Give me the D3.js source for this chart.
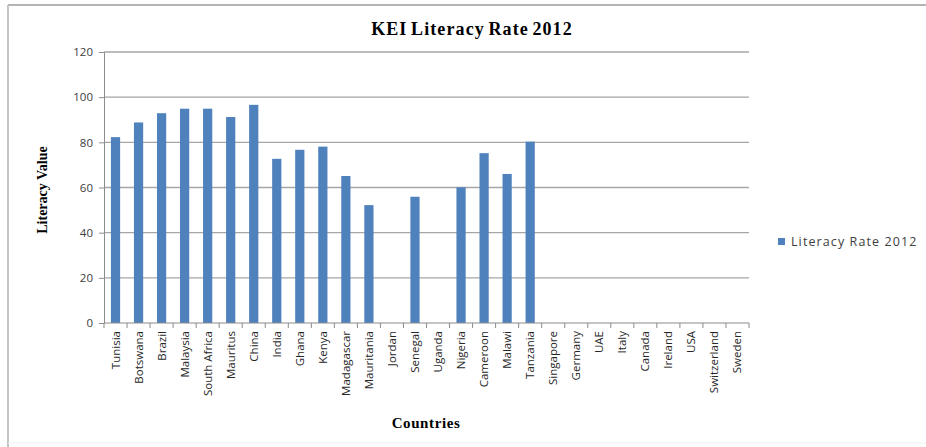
<!DOCTYPE html>
<html><head><meta charset="utf-8">
<script src="https://cdn.jsdelivr.net/npm/d3@7"></script>
<style>body{margin:0;background:#fff;}svg{display:block;}</style>
</head><body>
<svg id="c" width="926" height="447"></svg>
<script>
const countries = ["Tunisia","Botswana","Brazil","Malaysia","South Africa","Mauritus","China","India","Ghana","Kenya","Madagascar","Mauritania","Jordan","Senegal","Uganda","Nigeria","Cameroon","Malawi","Tanzania","Singapore","Germany","UAE","Italy","Canada","Ireland","USA","Switzerland","Sweden"];
const literacy2012 = [82.3,88.8,92.9,94.9,94.9,91.2,96.6,72.7,76.7,78.1,65.1,52.2,null,55.9,null,60.1,75.2,66.0,80.3,null,null,null,null,null,null,null,null,null];
const yTicks = [0,20,40,60,80,100,120];
const seriesName = "Literacy Rate 2012";
const title = "KEI Literacy Rate 2012";

(function(){
const svg = d3.select("#c");
const pL = 104, pR = 749, pT = 52, pB = 323;

// frame
svg.append("line").attr("x1",8).attr("x2",926).attr("y1",5).attr("y2",5).attr("stroke","#b4b4b4").attr("stroke-width",2);
svg.append("line").attr("x1",8).attr("x2",8).attr("y1",5).attr("y2",447).attr("stroke","#c4c4c4").attr("stroke-width",2);
svg.append("line").attr("x1",8).attr("x2",926).attr("y1",443).attr("y2",443).attr("stroke","#f0f0f0").attr("stroke-width",1);

const x = d3.scaleBand().domain(countries).range([pL,pR]).paddingInner(0.6).paddingOuter(0.3);
const y = d3.scaleLinear().domain([0,120]).range([pB,pT]);

// gridlines
svg.append("g").selectAll("line").data(yTicks.filter(d=>d>0)).join("line")
  .attr("x1",pL).attr("x2",pR).attr("y1",d=>y(d)).attr("y2",d=>y(d))
  .attr("stroke","#a6a6a6").attr("stroke-width",1.3);

// bars
svg.append("g").selectAll("rect").data(countries.map((c,i)=>({c,v:literacy2012[i]})).filter(d=>d.v!=null)).join("rect")
  .attr("x",d=>x(d.c)).attr("width",x.bandwidth())
  .attr("y",d=>y(d.v)).attr("height",d=>y(0)-y(d.v)).attr("fill","#4f81bd");

// y axis
const ya = svg.append("g").attr("transform",`translate(${pL},0)`)
  .call(d3.axisLeft(y).tickValues(yTicks).tickSize(5).tickPadding(6));
ya.select(".domain").attr("stroke","#8c8c8c");
ya.selectAll(".tick line").attr("stroke","#8c8c8c");
ya.selectAll("text").attr("font-family","'Open Sans', sans-serif").attr("font-size",11.5).attr("fill","#404040");

// x axis
const xb = d3.scaleLinear().domain([0,countries.length]).range([pL,pR]);
const xa = svg.append("g").attr("transform",`translate(0,${pB})`);
xa.append("line").attr("x1",pL).attr("x2",pR).attr("stroke","#8c8c8c").attr("stroke-width",1.2);
xa.selectAll("line.t").data(d3.range(countries.length+1)).join("line").attr("class","t")
  .attr("x1",d=>xb(d)).attr("x2",d=>xb(d)).attr("y1",0).attr("y2",5).attr("stroke","#8c8c8c");
xa.selectAll("text").data(countries).join("text")
  .attr("transform",d=>`translate(${x(d)+x.bandwidth()/2+4},8) rotate(-90)`)
  .attr("text-anchor","end").attr("font-family","'Open Sans', sans-serif").attr("font-size",11.5).attr("fill","#262626")
  .text(d=>d);

// titles
svg.append("text").attr("x",472).attr("y",35).attr("text-anchor","middle")
  .attr("font-family","'Liberation Serif', serif").attr("font-weight","bold").attr("font-size",18).attr("letter-spacing",1.1).attr("word-spacing",-2).text(title);
svg.append("text").attr("transform","translate(47,190) rotate(-90)").attr("text-anchor","middle")
  .attr("font-family","'Liberation Serif', serif").attr("font-weight","bold").attr("font-size",14).text("Literacy Value");
svg.append("text").attr("x",426).attr("y",428).attr("text-anchor","middle")
  .attr("font-family","'Liberation Serif', serif").attr("font-weight","bold").attr("font-size",15).attr("letter-spacing",0.6).text("Countries");

// legend
svg.append("rect").attr("x",778).attr("y",238).attr("width",7).attr("height",7).attr("fill","#4f81bd");
svg.append("text").attr("x",791).attr("y",246).attr("font-family","'Open Sans', sans-serif").attr("font-size",12.5).attr("letter-spacing",1.1).attr("fill","#404040").text(seriesName);
})();
</script>
</body></html>
